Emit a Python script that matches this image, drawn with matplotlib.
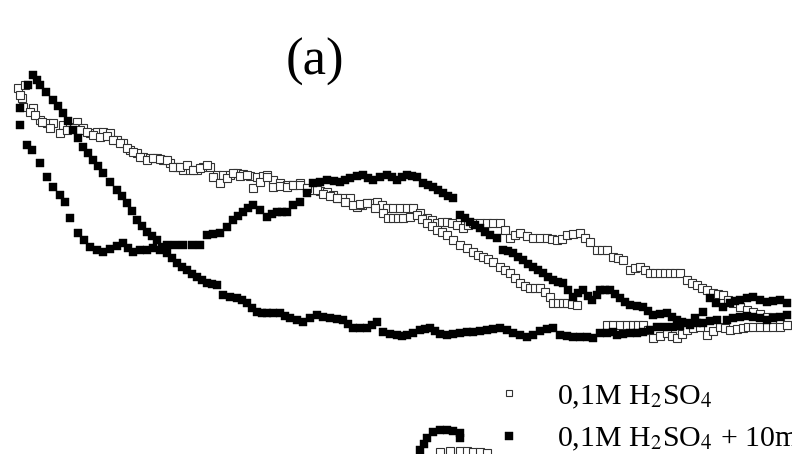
import matplotlib

matplotlib.use("Agg")
import matplotlib.pyplot as plt

plt.rcParams["font.family"] = ["Liberation Serif", "DejaVu Serif"]
plt.rcParams["mathtext.fontset"] = "stix"

# potential (scale units) and current (scale units, growing downward) per branch
blank_fwd_e = [18, 25, 22, 33, 40, 47, 53, 63, 70, 77, 83, 90, 97, 103, 110, 117, 123, 130, 137, 143,
               150, 157, 163, 170, 177, 183, 190, 197, 203, 210, 217, 223, 230, 237, 243, 250, 257, 263,
               267, 273, 280, 287, 293, 300, 307, 313, 320, 327, 333, 337, 343, 350, 357, 362, 367, 372,
               377, 382, 387, 393, 400, 407, 413, 420, 427, 432, 437, 442, 447, 452, 457, 463, 468, 473,
               480, 487, 493, 500, 505, 510, 515, 520, 527, 533, 540, 547, 552, 557, 562, 567, 573, 580,
               585, 590, 597, 602, 607, 613, 618, 623, 630, 635, 640, 645, 650, 655, 660, 665, 670, 675,
               680, 687, 692, 697, 702, 707, 713, 718, 723, 728, 733, 740, 747, 753, 760, 767, 773, 780, 787]
blank_fwd_i = [88, 85, 98, 108, 120, 123, 123, 125, 127, 122, 128, 133, 132, 132, 133, 140, 143, 150, 153, 157,
               158, 158, 160, 163, 167, 170, 170, 170, 167, 167, 175, 175, 175, 173, 174, 176, 177, 176,
               175, 180, 183, 185, 185, 183, 188, 190, 191, 192, 195, 198, 198, 198, 207, 205, 203, 203,
               202, 205, 208, 208, 208, 208, 208, 213, 218, 220, 223, 222, 222, 223, 225, 228, 225, 223,
               223, 223, 223, 223, 230, 238, 235, 233, 236, 238, 238, 238, 239, 240, 239, 235, 234, 233,
               238, 242, 250, 250, 250, 257, 258, 260, 270, 268, 267, 270, 273, 273, 273, 273, 273, 273,
               273, 280, 283, 285, 288, 290, 293, 294, 295, 300, 303, 307, 310, 312, 314, 317, 317, 320, 325]

blank_rev_e = [20, 23, 30, 35, 42, 50, 60, 67, 74, 80, 87, 93, 100, 107, 113, 120, 127, 133, 140, 147,
               153, 160, 167, 173, 180, 187, 193, 200, 207, 213, 220, 227, 233, 240, 247, 253, 260, 267,
               273, 280, 287, 293, 300, 307, 317, 323, 330, 337, 345, 353, 360, 367, 375, 383, 388, 393,
               398, 403, 410, 417, 422, 427, 432, 437, 442, 447, 453, 460, 467, 473, 478, 483, 488, 493,
               500, 505, 510, 515, 520, 525, 530, 535, 540, 545, 550, 553, 558, 563, 567, 572, 577, 607,
               613, 620, 627, 633, 638, 643, 648, 653, 660, 667, 672, 677, 682, 687, 693, 700, 707, 713,
               720, 725, 730, 737, 743, 748, 753, 760, 767, 773, 780, 787]
blank_rev_i = [95, 107, 112, 115, 122, 128, 133, 130, 128, 130, 132, 135, 137, 136, 140, 143, 148, 152, 157, 160,
               158, 159, 160, 167, 167, 165, 170, 168, 165, 177, 183, 178, 173, 176, 175, 188, 182, 177,
               187, 186, 187, 185, 185, 188, 190, 194, 196, 198, 202, 205, 204, 203, 208, 213, 218, 218,
               218, 218, 217, 215, 219, 223, 226, 230, 232, 235, 240, 245, 248, 252, 255, 257, 259, 262,
               267, 270, 273, 278, 283, 286, 288, 288, 288, 292, 297, 303, 303, 303, 303, 304, 305, 325,
               325, 325, 325, 325, 325, 325, 330, 338, 336, 333, 336, 338, 334, 330, 328, 327, 335, 331,
               327, 328, 330, 329, 328, 327, 327, 327, 327, 327, 327, 325]

add_fwd_e = [20, 20, 27, 32, 40, 47, 53, 60, 65, 70, 78, 84, 90, 97, 103, 110, 117, 123, 128, 133,
             140, 147, 153, 160, 167, 175, 183, 192, 200, 207, 213, 220, 227, 233, 238, 243, 248, 253,
             260, 267, 272, 277, 282, 287, 293, 300, 307, 313, 320, 327, 334, 340, 345, 350, 357, 363,
             368, 373, 380, 387, 392, 397, 402, 407, 412, 417, 423, 428, 433, 438, 443, 448, 453,
             460, 465, 470, 475, 480, 485, 490, 497,
             503, 508, 513, 518, 523, 528, 533, 538, 543, 548, 553, 558, 563, 568, 573, 578, 583, 588,
             592, 597, 600, 605, 610, 615, 620, 625, 630, 637, 643, 648, 653, 660, 667, 672, 677, 682,
             687, 695, 703, 710, 716, 723, 730, 735, 740, 747, 753, 760, 767, 773, 780, 787]
add_fwd_i = [108, 125, 145, 150, 163, 177, 187, 195, 202, 218, 233, 240, 247, 250, 252, 249, 246, 243, 248, 252,
             250, 250, 248, 250, 245, 245, 245, 245, 245, 235, 234, 233, 227, 220, 216, 212, 208, 205,
             210, 217, 214, 212, 212, 212, 205, 202, 193, 183, 182, 180, 181, 182, 180, 178, 176, 175,
             178, 180, 177, 175, 177, 180, 177, 175, 176, 177, 183, 185, 187, 190, 193, 196, 198,
             215, 218, 222, 225, 228, 232, 235, 238,
             250, 251, 253, 257, 260, 264, 267, 270, 273, 277, 280, 282, 283, 290, 297, 293, 290, 296,
             300, 295, 290, 290, 290, 294, 298, 302, 305, 306, 307, 311, 315, 314, 313, 317, 320, 322,
             323, 318, 312, 298, 303, 307, 303, 301, 300, 298, 297, 300, 302, 301, 300, 303]

add_rev_e = [28, 33, 37, 40, 46, 53, 58, 63, 68, 73, 78, 83, 88, 93, 98, 103, 110, 117, 122, 127,
             132, 137, 142, 147, 152, 157, 162, 167, 172, 177, 182, 187, 192, 197, 202, 207, 212, 217,
             223, 230, 237, 242, 247, 252, 257, 262, 267, 273, 280, 285, 290, 297, 303, 310, 317, 323,
             330, 337, 343, 348, 353, 360, 367, 372, 377, 383, 390, 397, 402, 407, 413, 420, 425, 430,
             435, 440, 447, 453, 460, 467, 473, 480, 487, 493, 500, 507, 513, 520, 527, 533, 540, 547,
             553, 560, 567, 573, 580, 587, 593, 600, 607, 613, 617, 623, 630, 637, 643, 650, 657, 665,
             673, 680, 690, 697, 703, 710, 717, 727, 733, 740, 747, 753, 760, 767, 773, 780, 787]
add_rev_i = [85, 75, 80, 85, 92, 100, 106, 113, 121, 130, 138, 147, 153, 160, 166, 173, 182, 190, 196, 203,
             211, 220, 226, 232, 236, 240, 247, 253, 258, 263, 267, 270, 274, 277, 280, 283, 284, 285,
             295, 297, 298, 300, 303, 308, 312, 313, 313, 313, 313, 316, 318, 320, 322, 318, 315, 317,
             318, 319, 320, 324, 328, 328, 328, 325, 322, 332, 334, 335, 336, 335, 333, 330, 329, 328,
             331, 334, 335, 334, 333, 332, 332, 331, 330, 329, 328, 330, 333, 335, 337, 335, 331, 329,
             328, 335, 336, 337, 337, 337, 338, 333, 333, 332, 335, 334, 333, 333, 332, 330, 327, 327,
             327, 326, 325, 323, 323, 321, 320, 320, 318, 317, 316, 317, 318, 320, 318, 317, 315]

# top edge of the next panel
next_add_e = [420, 424, 427, 433, 440, 447, 453, 460, 460]
next_add_i = [450, 444, 438, 432, 430, 430, 431, 433, 438]
next_blank_e = [440, 450, 460, 467, 473, 480, 487]
next_blank_i = [452, 451, 451, 451, 452, 452, 453]

labels = [r"0,1M H$_2$SO$_4$", r"0,1M H$_2$SO$_4$ + 10mM"]

fig = plt.figure(figsize=(7.92, 4.54), dpi=100)
ax = fig.add_axes([0, 0, 1, 1])
ax.set_xlim(0, 792)
ax.set_ylim(454, 0)
ax.axis("off")

open_kw = dict(ls="none", marker="s", ms=6.0, mfc="white", mec="#333333", mew=0.8, zorder=2)
fill_kw = dict(ls="none", marker="s", ms=5.6, mfc="black", mec="black", mew=0.3, zorder=3)

h_blank, = ax.plot(blank_fwd_e, blank_fwd_i, **open_kw)
ax.plot(blank_rev_e, blank_rev_i, **open_kw)
h_add, = ax.plot(add_fwd_e, add_fwd_i, **fill_kw)
ax.plot(add_rev_e, add_rev_i, **fill_kw)

ax.plot(next_blank_e, next_blank_i, **open_kw)
ax.plot(next_add_e, next_add_i, **fill_kw)

ax.text(315, 62, "(a)", fontsize=38, ha="center", va="center")

leg = ax.legend([h_blank, h_add], labels, loc="upper left", bbox_to_anchor=(500, 383),
                bbox_transform=ax.transData, frameon=False, fontsize=21.5, handlelength=0.6,
                handletextpad=1.3, labelspacing=0.5, borderpad=0, borderaxespad=0)
leg.legend_handles[0].set_markersize(4.2)
leg.legend_handles[1].set_markersize(5.8)

fig.savefig("out.png", dpi=100)
plt.close(fig)
